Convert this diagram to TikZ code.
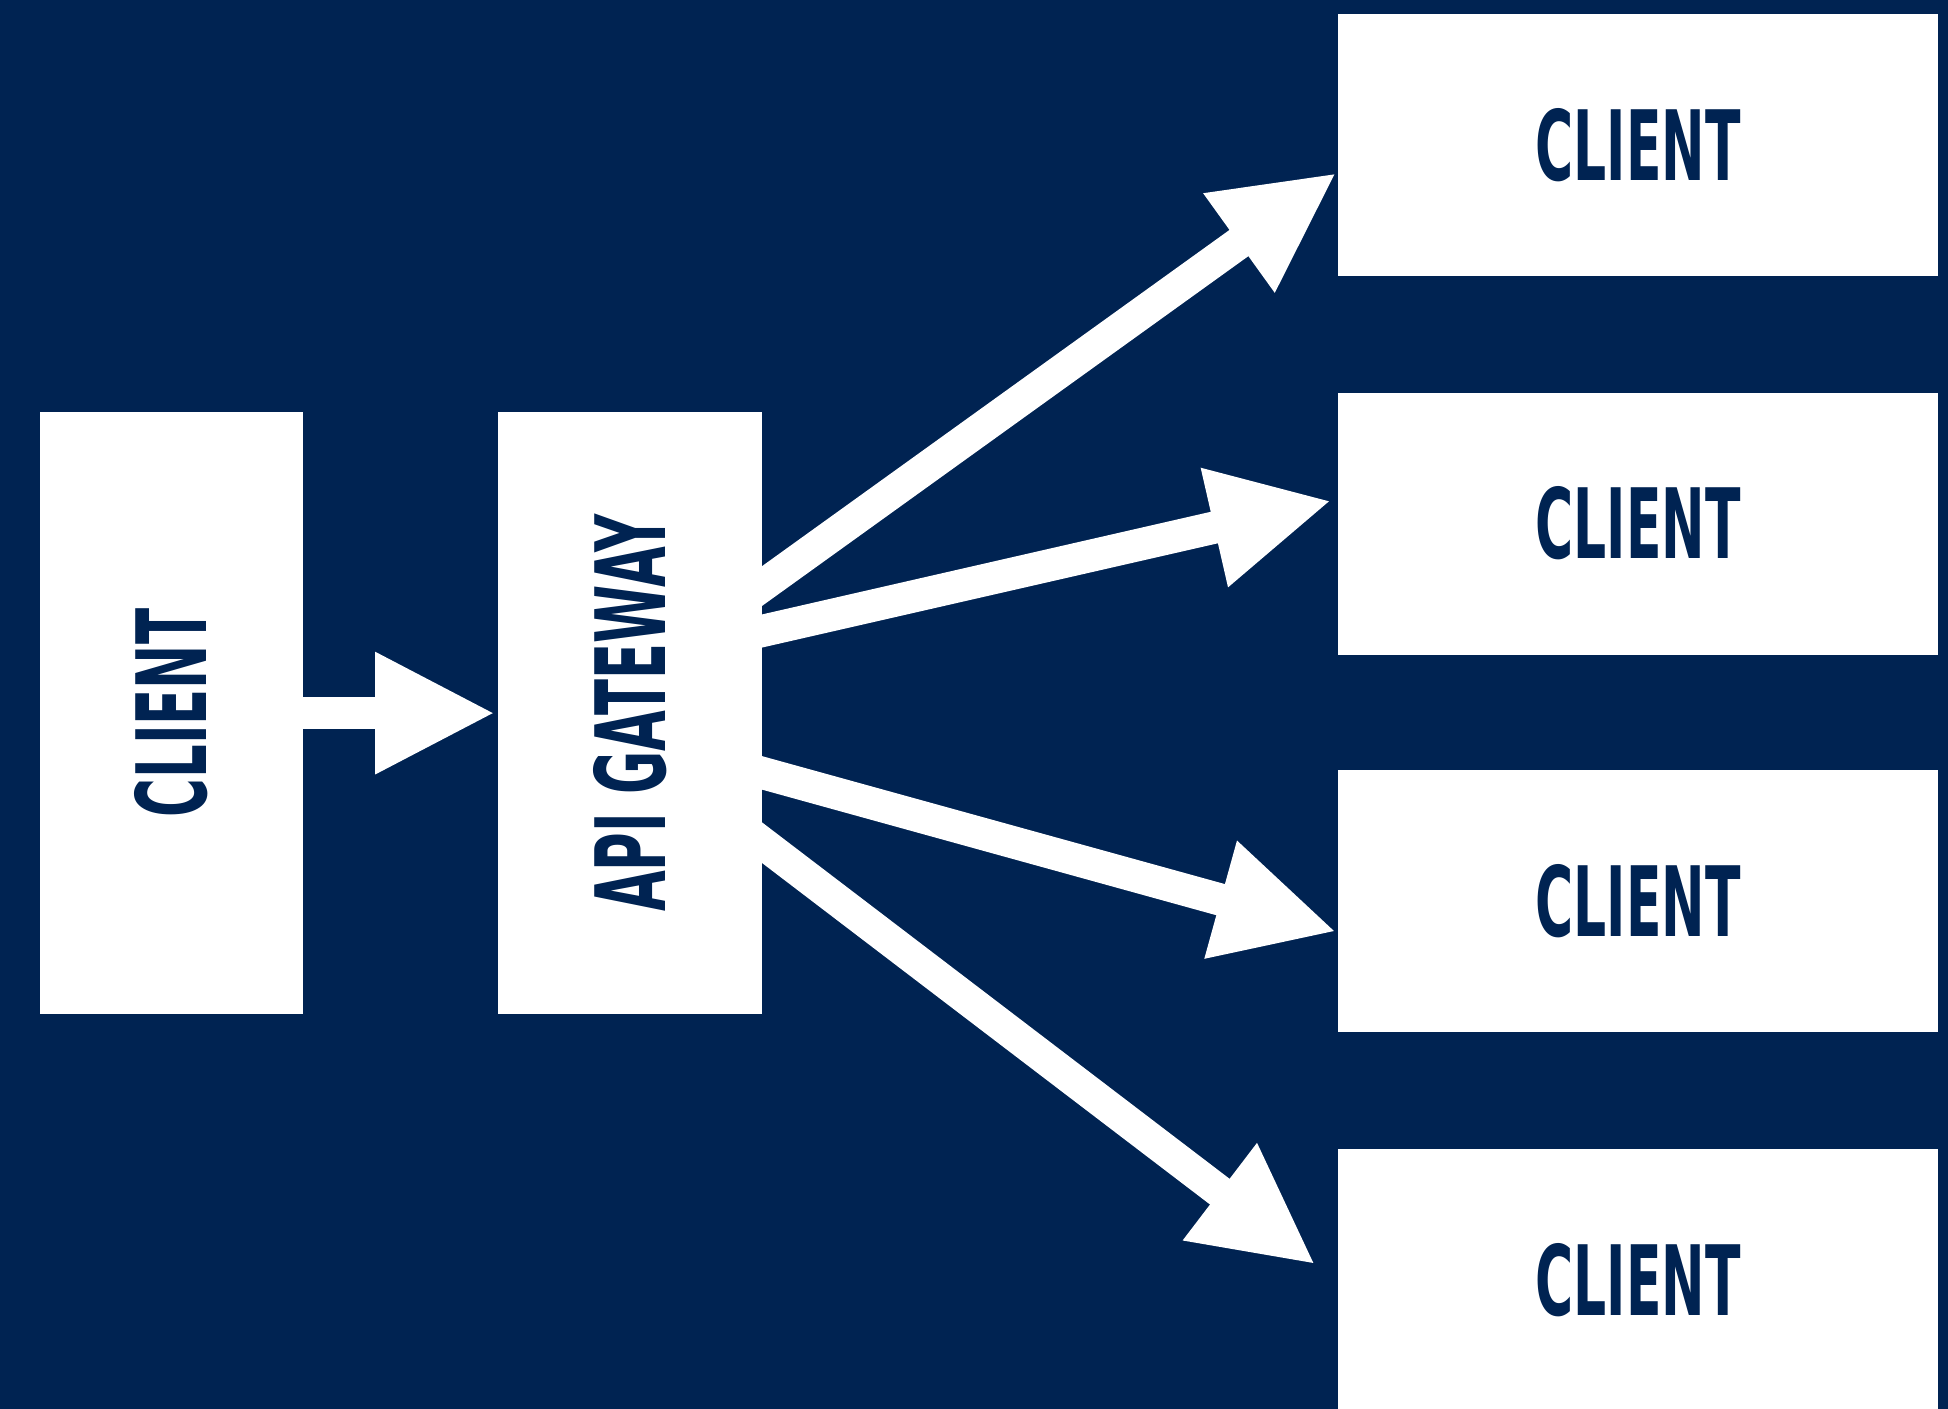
\documentclass[tikz,border=0pt]{standalone}
\usepackage{fontspec}
\usepackage{graphicx}
\setmainfont{DejaVu Sans Condensed}
\usetikzlibrary{arrows.meta,calc}
\definecolor{navy}{HTML}{002352}
\newcommand{\lbl}[2]{\resizebox{#1pt}{58pt}{\color{navy}\bfseries #2}}
\begin{document}
\begin{tikzpicture}[x=1pt,y=-1pt,
  box/.style={fill=white,draw=none,inner sep=0pt,text=navy},
  tallbox/.style={box,minimum width=212pt,minimum height=484pt},
  widebox/.style={box,minimum width=483pt,minimum height=211pt},
  conn/.style={draw=white,line width=26pt,-{Triangle[length=97pt,width=91pt]}}]
\useasboundingbox (0,0) rectangle (1568,1134);
\clip (0,0) rectangle (1568,1134);
\fill[navy] (0,0) rectangle (1568,1134);
% nodes
\node[tallbox] (c0) at (138,574) {\rotatebox{90}{\lbl{168}{CLIENT}}};
\node[tallbox] (gw) at (507,574) {\rotatebox{90}{\lbl{320}{API GATEWAY}}};
\node[widebox] (c1) at (1318.5,116.5) {\lbl{165}{CLIENT}};
\node[widebox] (c2) at (1318.5,421.5) {\lbl{165}{CLIENT}};
\node[widebox] (c3) at (1318.5,725.5) {\lbl{165}{CLIENT}};
\node[widebox] (c4) at (1318.5,1030.5) {\lbl{165}{CLIENT}};
% arrow end points
\coordinate (t0) at (399,574);
\coordinate (s1) at (613,472);
\coordinate (t1) at (1076,139);
\coordinate (s2) at (613,508);
\coordinate (t2) at (1072,403);
\coordinate (s3) at (613,622);
\coordinate (t3) at (1076,750);
\coordinate (s4) at (613,678);
\coordinate (t4) at (1059,1018);
% connectors
\draw[conn] (c0.east) -- (t0);
\draw[conn] ($(s1)!-40pt!(t1)$) -- (t1);
\draw[conn] ($(s2)!-40pt!(t2)$) -- (t2);
\draw[conn] ($(s3)!-40pt!(t3)$) -- (t3);
\draw[conn] ($(s4)!-40pt!(t4)$) -- (t4);
\end{tikzpicture}
\end{document}
